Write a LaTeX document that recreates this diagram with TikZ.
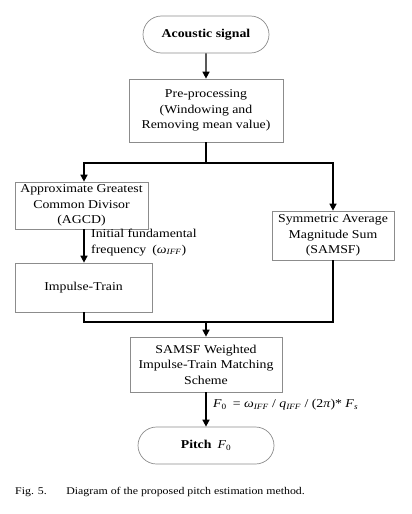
\documentclass[tikz,border=0pt]{standalone}
\usepackage{fontspec}
\setmainfont{Liberation Serif}[FakeStretch=1.15]
\usetikzlibrary{arrows.meta,shapes.misc}
\newcommand{\itsub}[1]{\textsubscript{\itshape #1}}
\begin{document}
\begin{tikzpicture}[x=1pt,y=-1pt,
  box/.style={draw=black!45, line width=0.7pt, align=center, inner sep=0pt,
    font=\fontsize{12}{15.5}\selectfont},
  term/.style={rounded rectangle, draw=black!45, line width=0.7pt, inner sep=0pt,
    font=\fontsize{12}{15.5}\selectfont},
  link/.style={line width=1.4pt, line join=miter},
  conn/.style={link, -{Triangle[length=7pt,width=7pt]}},
  lab/.style={font=\fontsize{12}{15.5}\selectfont, align=left, inner sep=0pt}]
\useasboundingbox (0,0) rectangle (412,514);

\node[term, minimum width=126pt, minimum height=37pt] (src) at (206,34.5) {\textbf{Acoustic signal}};
\node[box, minimum width=154pt, minimum height=63pt] (pre) at (206,110.5)
  {Pre-processing\\(Windowing and\\Removing mean value)};
\node[box, minimum width=133pt, minimum height=47pt] (agcd) at (81.5,205.5)
  {Approximate Greatest\\Common Divisor\\(AGCD)};
\node[box, minimum width=137pt, minimum height=49pt] (imp) at (83.5,287.5) {Impulse-Train};
\node[box, minimum width=122pt, minimum height=49pt] (sams) at (333,235.5)
  {Symmetric Average\\Magnitude Sum\\(SAMSF)};
\node[box, minimum width=152pt, minimum height=55pt] (wgt) at (206,364.5)
  {SAMSF Weighted\\Impulse-Train Matching\\Scheme};
\node[term, minimum width=136pt, minimum height=37pt] (pitch) at (206,445.5)
  {\textbf{Pitch}\enspace\textit{F}\textsubscript{0}};

\coordinate (jl) at (84,163);
\coordinate (jr) at (333,163);
\coordinate (bl) at (84,322);
\coordinate (br) at (333,322);
\coordinate (bm) at (206,322);

\draw[conn] (src) -- (pre);
\draw[conn] (pre.south) |- (jl) -- (jl |- agcd.north);
\draw[conn] (pre.south) |- (jr) -- (jr |- sams.north);
\draw[conn] (jl |- agcd.south) -- (jl |- imp.north);
\draw[link] (jl |- imp.south) -- (bl) -- (br) -- (sams.south);
\draw[conn] (bm) -- (wgt.north);
\draw[conn] (wgt) -- (pitch);

\node[lab, anchor=north west] (ifl) at (91,229)
  {Initial fundamental\\frequency\enspace(\textit{ω}\itsub{IFF})};
\node[lab, anchor=west] (f0l) at (213,405)
  {\textit{F}\textsubscript{0}\enspace= \textit{ω}\itsub{IFF} / \textit{q}\itsub{IFF} / (2\textit{π})* \textit{F}\itsub{s}};

\node[anchor=west, inner sep=0pt, font=\fontsize{10.3}{12}\selectfont] (cap) at (15,492)
  {Fig. 5.\hspace{1.9em}Diagram of the proposed pitch estimation method.};
\end{tikzpicture}
\end{document}
